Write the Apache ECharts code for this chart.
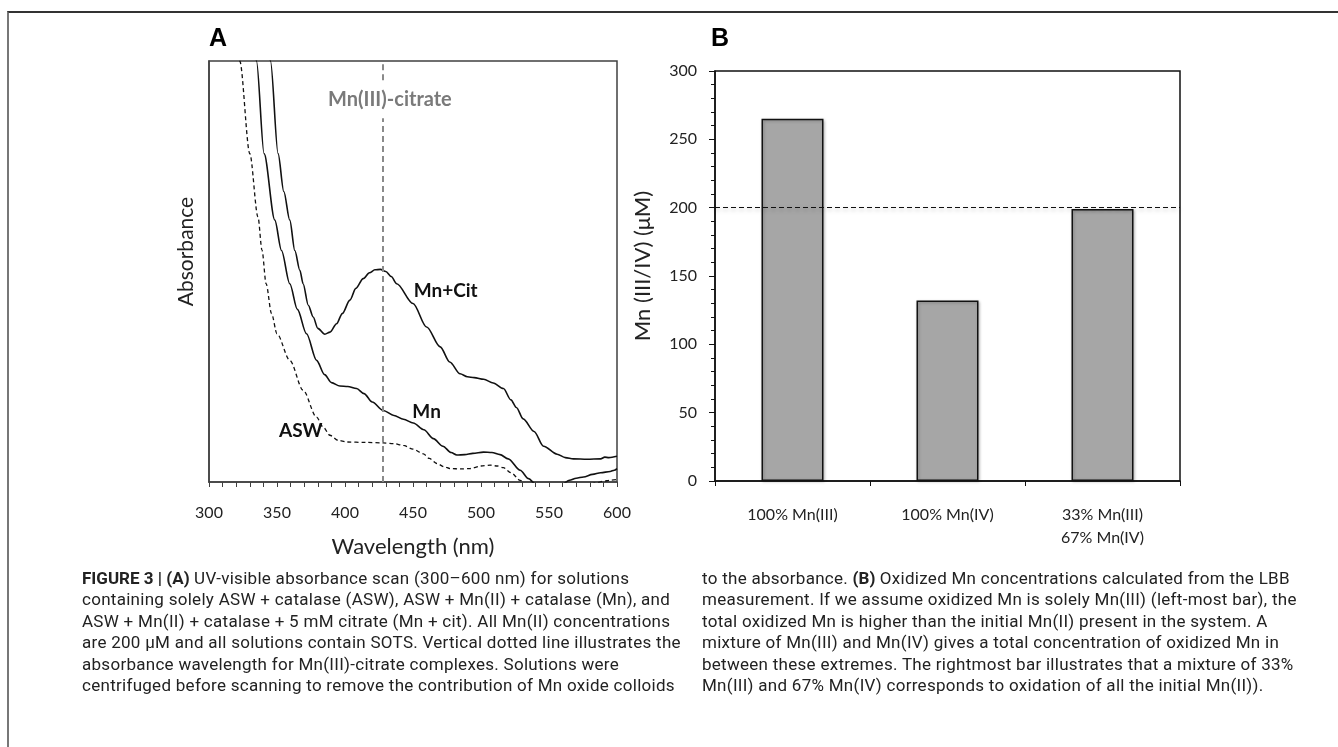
<!DOCTYPE html>
<html>

<head>
    <meta charset="UTF-8">
    <title>Figure 3</title>
    <script src="https://cdn.jsdelivr.net/npm/echarts@6.0.0/dist/echarts.min.js"></script>
    <style>
        body { margin: 0; background: #fff; }
        #frame {
            position: absolute; left: 7px; top: 11px; width: 1331px; height: 736px;
            border-top: 2px solid #333; border-left: 2px solid #777; box-sizing: border-box;
        }
        .cap {
            position: absolute; font-family: "Roboto", sans-serif;
            font-size: 17px; letter-spacing: 0.28px; color: #222; line-height: 21.4px; white-space: nowrap;
        }
        .cap b { font-weight: bold; letter-spacing: 0; }
    </style>
</head>

<body>
    <div id="frame"></div>
    <div id="main" style="position: absolute; left: 0; top: 0; width: 1338px; height: 747px;"></div>
    <div class="cap" style="left: 82px; top: 568px;">
        <b>FIGURE 3 | (A)</b> UV-visible absorbance scan (300–600 nm) for solutions<br>
        containing solely ASW + catalase (ASW), ASW + Mn(II) + catalase (Mn), and<br>
        ASW + Mn(II) + catalase + 5 mM citrate (Mn + cit). All Mn(II) concentrations<br>
        are 200 μM and all solutions contain SOTS. Vertical dotted line illustrates the<br>
        absorbance wavelength for Mn(III)-citrate complexes. Solutions were<br>
        centrifuged before scanning to remove the contribution of Mn oxide colloids
    </div>
    <div class="cap" style="left: 702px; top: 568px;">
        to the absorbance. <b>(B)</b> Oxidized Mn concentrations calculated from the LBB<br>
        measurement. If we assume oxidized Mn is solely Mn(III) (left-most bar), the<br>
        total oxidized Mn is higher than the initial Mn(II) present in the system. A<br>
        mixture of Mn(III) and Mn(IV) gives a total concentration of oxidized Mn in<br>
        between these extremes. The rightmost bar illustrates that a mixture of 33%<br>
        Mn(III) and 67% Mn(IV) corresponds to oxidation of all the initial Mn(II)).
    </div>
    <script>
        // 面板 A：吸光度扫描（纵轴无刻度，按相对高度读取）
        const mnCitNm = [340, 345.2, 350.8, 355, 359.4, 363.1, 366.8, 369.2, 373, 376.6, 380, 385.2, 389, 393.8, 398, 403.6,
            408, 413.4, 418, 422, 426, 430, 434, 438, 450, 460, 470, 477, 484.6, 490, 495, 502, 509, 516.5, 522, 526, 531,
            539, 546, 556, 562, 568, 578, 588, 591, 594, 600];
        const mnCitAbs = [1.2, 1.0, 0.78, 0.69, 0.622, 0.55, 0.503, 0.471, 0.42, 0.392, 0.365, 0.351, 0.356, 0.376, 0.40, 0.432,
            0.46, 0.483, 0.497, 0.504, 0.505, 0.5, 0.488, 0.471, 0.424, 0.368, 0.321, 0.285, 0.257, 0.25, 0.248, 0.244, 0.235, 0.222, 0.195, 0.177, 0.15,
            0.12, 0.085, 0.066, 0.058, 0.055, 0.054, 0.055, 0.059, 0.058, 0.061];

        const mnNm = [330, 334.9, 340.5, 348.4, 353.3, 359.4, 365, 371.7, 379.1, 385, 390.1, 396.2, 402, 408.5, 414, 420, 428.1,
            436, 443, 450.2, 458, 465, 472, 478, 482.2, 488, 494, 501.8, 508, 514, 520, 528.8, 535, 540, 550, 560, 565, 570,
            575.4, 582, 588, 595, 598, 600];
        const mnAbs = [1.2, 1.0, 0.78, 0.622, 0.55, 0.471, 0.41, 0.352, 0.289, 0.255, 0.236, 0.228, 0.227, 0.222, 0.21, 0.19, 0.17,
            0.158, 0.149, 0.14, 0.124, 0.103, 0.085, 0.07, 0.064, 0.065, 0.068, 0.071, 0.07, 0.065, 0.055, 0.028, 0.008, -0.005, -0.02, -0.005, 0.004, 0.009,
            0.012, 0.018, 0.022, 0.025, 0.028, 0.032];

        const aswNm = [318, 322.6, 330, 336, 339, 342, 346, 350, 359.4, 369.2, 379.1, 384, 388.9, 395, 401.2, 415, 428.1, 436,
            442.9, 450, 457.6, 462, 467.5, 473, 477.3, 485, 492, 500, 506.7, 512, 516.5, 522, 528.8, 534, 545, 575, 585, 590,
            595, 600];
        const aswAbs = [1.2, 1.0, 0.78, 0.63, 0.55, 0.471, 0.40, 0.352, 0.289, 0.218, 0.154, 0.13, 0.111, 0.099, 0.095, 0.094, 0.093, 0.091,
            0.087, 0.078, 0.067, 0.056, 0.044, 0.036, 0.032, 0.031, 0.032, 0.038, 0.04, 0.038, 0.034, 0.022, 0.004, -0.01, -0.02, -0.01, -0.002, 0.002,
            0.004, 0.006];

        const citrateNm = 428;

        // 面板 B：氧化态 Mn 浓度
        const barCategories = ['100% Mn(III)', '100% Mn(IV)', '33% Mn(III)\n67% Mn(IV)'];
        const barValues = [265, 132, 199];
        const initialMn = 200;

        const pairs = (xs, ys) => xs.map((x, i) => [x, ys[i]]);

        const curveStyle = { color: '#111', width: 1.6 };
        const curveLabel = {
            show: true, position: 'inside', color: '#111', fontFamily: 'Lato',
            fontWeight: 'bold', fontSize: 19, formatter: '{b}'
        };

        const option = {
            animation: false,
            title: [
                { text: 'A', left: 209, top: 27, padding: 0, textStyle: { fontSize: 25, fontWeight: 'bold', fontFamily: 'Liberation Sans', color: '#000' } },
                { text: 'B', left: 711, top: 27, padding: 0, textStyle: { fontSize: 25, fontWeight: 'bold', fontFamily: 'Liberation Sans', color: '#000' } }
            ],
            grid: [
                { left: 209, top: 61, width: 408, height: 421, show: true, borderColor: '#404040', borderWidth: 1.5, backgroundColor: 'transparent' },
                { left: 715, top: 71, width: 465, height: 410, show: true, borderColor: '#111', borderWidth: 1.5, backgroundColor: 'transparent' }
            ],
            xAxis: [
                {
                    gridIndex: 0, type: 'value', min: 300, max: 600, interval: 50,
                    name: 'Wavelength (nm)', nameLocation: 'middle', nameGap: 54,
                    nameTextStyle: { fontFamily: 'Lato', fontSize: 22, color: '#222' },
                    axisLine: { lineStyle: { color: '#404040', width: 1.5 } },
                    axisTick: { show: true, length: 5, lineStyle: { color: '#404040' } },
                    minorTick: { show: true, splitNumber: 5, length: 5, lineStyle: { color: '#404040' } },
                    axisLabel: { margin: 23, fontFamily: 'Lato', fontSize: 16, color: '#222' },
                    splitLine: { show: false }
                },
                {
                    gridIndex: 1, type: 'category', data: barCategories,
                    axisLine: { lineStyle: { color: '#111', width: 1.5 } },
                    axisTick: { show: true, length: 5, lineStyle: { color: '#111' } },
                    axisLabel: { margin: 22, fontFamily: 'Lato', fontSize: 16, color: '#222', lineHeight: 23 }
                }
            ],
            yAxis: [
                {
                    gridIndex: 0, type: 'value', min: 0, max: 1,
                    name: 'Absorbance', nameLocation: 'middle', nameGap: 12,
                    nameTextStyle: { fontFamily: 'Lato', fontSize: 21, color: '#222', padding: [0, 0, 0, 40] },
                    axisLine: { show: true, lineStyle: { color: '#404040', width: 1.5 } },
                    axisTick: { show: false }, axisLabel: { show: false }, splitLine: { show: false }
                },
                {
                    gridIndex: 1, type: 'value', min: 0, max: 300, interval: 50,
                    name: 'Mn (III/IV) (μM)', nameLocation: 'middle', nameGap: 61,
                    nameTextStyle: { fontFamily: 'Lato', fontSize: 22, color: '#222', padding: [0, 0, 0, 20] },
                    axisLine: { show: true, lineStyle: { color: '#111', width: 1.5 } },
                    axisTick: { show: true, length: 6, lineStyle: { color: '#111' } },
                    minorTick: { show: true, splitNumber: 5, length: 4, lineStyle: { color: '#111' } },
                    axisLabel: { margin: 18, fontFamily: 'Lato', fontSize: 16, color: '#222' },
                    splitLine: { show: false }
                }
            ],
            series: [
                {
                    name: 'ASW', type: 'line', xAxisIndex: 0, yAxisIndex: 0, data: pairs(aswNm, aswAbs),
                    showSymbol: false, smooth: 0.3, smoothMonotone: 'x', clip: true,
                    lineStyle: { color: '#111', width: 1.3, type: [4, 3] },
                    markLine: {
                        silent: true, symbol: 'none', label: { show: false },
                        lineStyle: { color: '#8a8a8a', width: 2, type: [6, 4] },
                        data: [
                            [{ coord: [citrateNm, 0] }, { coord: [citrateNm, 0.864] }],
                            [{ coord: [citrateNm, 0.954] }, { coord: [citrateNm, 1] }]
                        ]
                    },
                    markPoint: {
                        symbol: 'circle', symbolSize: 0, label: curveLabel,
                        data: [
                            { name: 'ASW', coord: [367.5, 0.121] },
                            {
                                name: 'Mn(III)-citrate', coord: [433, 0.909],
                                label: { color: '#7a7a7a', fontSize: 20 }
                            }
                        ]
                    }
                },
                {
                    name: 'Mn', type: 'line', xAxisIndex: 0, yAxisIndex: 0, data: pairs(mnNm, mnAbs),
                    showSymbol: false, smooth: 0.3, smoothMonotone: 'x', clip: true, lineStyle: curveStyle,
                    markPoint: { symbol: 'circle', symbolSize: 0, label: curveLabel, data: [{ name: 'Mn', coord: [460, 0.166] }] }
                },
                {
                    name: 'Mn+Cit', type: 'line', xAxisIndex: 0, yAxisIndex: 0, data: pairs(mnCitNm, mnCitAbs),
                    showSymbol: false, smooth: 0.3, smoothMonotone: 'x', clip: true, lineStyle: curveStyle,
                    markPoint: { symbol: 'circle', symbolSize: 0, label: curveLabel, data: [{ name: 'Mn+Cit', coord: [474, 0.454] }] }
                },
                {
                    name: 'Mn oxidized', type: 'bar', xAxisIndex: 1, yAxisIndex: 1, data: barValues, barWidth: '40%',
                    itemStyle: {
                        color: '#a6a6a6', borderColor: '#111', borderWidth: 1.5,
                        shadowBlur: 3, shadowColor: 'rgba(0,0,0,0.25)', shadowOffsetX: 1, shadowOffsetY: 1
                    },
                    markLine: {
                        silent: true, symbol: 'none', label: { show: false },
                        lineStyle: {
                            color: '#111', width: 1, type: [5, 3],
                            shadowBlur: 4, shadowColor: 'rgba(0,0,0,0.35)', shadowOffsetY: 2
                        },
                        data: [{ yAxis: initialMn }]
                    }
                }
            ]
        };

        const myChart = echarts.init(document.getElementById('main'));
        myChart.setOption(option);
    </script>
</body>

</html>
